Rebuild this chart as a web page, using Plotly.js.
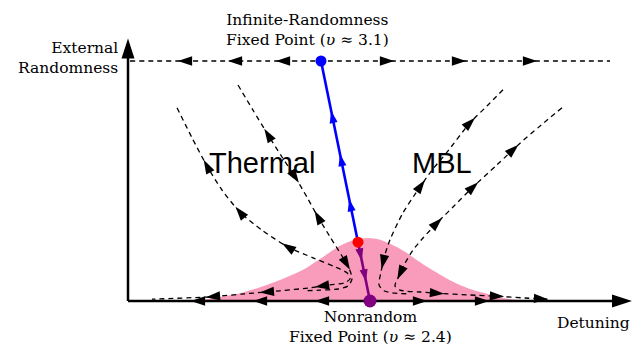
<!DOCTYPE html>
<html><head><meta charset="utf-8">
<script src="https://cdn.plot.ly/plotly-3.0.1.min.js"></script>
<style>html,body{margin:0;padding:0;background:#fff;}</style>
</head><body><div id="chart" style="width:644px;height:347px;"></div>
<script>
// ---- data (x: detuning, y: external randomness) ----
const fixedX = [-0.98, -0.24, 0];          // infinite-randomness FP, critical point, nonrandom FP
const fixedY = [4.0, 0.98, 0];
const fixedColors = ['#0000ff', '#ff0000', '#800080'];
const fixedSizes = [11, 11, 13];

const axisOrigin = [-4.84, 0];
const xAxisEnd = 5.24;
const yAxisEnd = 4.38;

const pinkX = [-3.6,-3.4,-3.0,-2.6,-2.2,-1.8,-1.34,-1.0,-0.6,-0.3,-0.04,0.2,0.6,1.14,1.66,2.0,2.34,2.66,3.0,3.2];
const pinkY = [0,0.012,0.065,0.13,0.23,0.35,0.52,0.70,0.92,1.02,1.05,1.02,0.87,0.57,0.32,0.2,0.12,0.05,0.012,0];

const topLineX = [-4.8, -0.98, 4.8];
const topLineY = [4.0, 4.0, 4.0];
const topArrX = [-3.7, -2.7, -1.74, 0.34, 1.78, 3.2];
const topArrY = [4, 4, 4, 4, 4, 4];
const topArrDir = [-1, -1, -1, 1, 1, 1];

const xAxisArrX = [-3.44, -2.2, -0.96, 1.0, 2.24];
const xAxisArrY = [0, 0, 0, 0, 0];
const xAxisArrDir = [-1, -1, -1, 1, 1];

const blueX = [-0.24, -0.98];
const blueY = [0.98, 4.0];
const blueArrX = [-0.75, -0.58, -0.39];
const blueArrY = [3.07, 2.35, 1.6];
const blueArrDir = [1, 1, 1];

const purpleX = [-0.24, 0];
const purpleY = [0.98, 0];
const purpleArrX = [-0.2, -0.12];
const purpleArrY = [0.77, 0.42];
const purpleArrDir = [1, 1];

// thermal side, outer curve
const loX = [-3.86,-3.56,-3.26,-2.96,-2.6,-2.16,-1.64,-1.14,-0.7,-0.46,-0.4,-0.52,-0.8,-1.2,-1.8,-2.5,-3.2,-4.36];
const loY = [3.22,2.72,2.25,1.85,1.48,1.18,0.9,0.72,0.57,0.47,0.37,0.3,0.27,0.22,0.17,0.12,0.07,0.03];
const loArrX = [-3.26, -2.6, -1.64, -0.96, -2.06, -3.14];
const loArrY = [2.25, 1.48, 0.9, 0.25, 0.13, 0.07];
const loArrDir = [-1, -1, -1, 1, 1, 1];

// thermal side, inner curve
const liX = [-2.64,-2.34,-2.04,-1.76,-1.5,-1.26,-1.04,-0.8,-0.56,-0.42,-0.36,-0.44,-0.64,-1.0,-1.3];
const liY = [3.6,3.18,2.77,2.4,2.07,1.73,1.4,1.07,0.75,0.55,0.37,0.25,0.2,0.18,0.17];
const liArrX = [-2.04, -1.5, -1.04, -0.46];
const liArrY = [2.77, 2.07, 1.4, 0.63];
const liArrDir = [-1, 1, -1, 1];

// MBL side, outer curve
const roX = [3.84,3.42,3.0,2.54,2.06,1.7,1.34,1.06,0.86,0.7,0.58,0.5,0.6,1.0,1.34,2.0,2.54,3.1,3.56];
const roY = [3.22,2.93,2.63,2.27,1.9,1.6,1.3,1.05,0.85,0.63,0.42,0.25,0.18,0.15,0.13,0.1,0.08,0.05,0.03];
const roArrX = [2.86, 2.06, 1.34, 0.6, 1.34, 2.54, 3.42];
const roArrY = [2.53, 1.9, 1.3, 0.47, 0.13, 0.08, 0.03];
const roArrDir = [-1, -1, -1, 1, 1, 1, 1];

// MBL side, inner curve
const riX = [2.66,2.34,2.0,1.54,1.24,1.0,0.66,0.4,0.28,0.22,0.18,0.28,0.5,0.8];
const riY = [3.52,3.25,2.97,2.48,2.18,1.9,1.47,1.02,0.72,0.48,0.27,0.17,0.13,0.12];
const riArrX = [2.0, 1.0, 0.26];
const riArrY = [2.97, 1.93, 0.65];
const riArrDir = [-1, -1, 1];

// ---- layout geometry ----
const W = 644, H = 347;
const xr = [-7.4, 5.48], yr = [-0.7667, 5.0167];
const sx = W / (xr[1] - xr[0]), sy = H / (yr[1] - yr[0]);

function arrowTrace(cx, cy, axs, ays, dirs, size, color) {
  const X = [], Y = [], A = [];
  const L = size * 0.95;
  for (let i = 0; i < axs.length; i++) {
    let best = 0, bd = Infinity, bt = 0;
    const px = axs[i] * sx, py = ays[i] * sy;
    for (let j = 0; j < cx.length - 1; j++) {
      const x1 = cx[j] * sx, y1 = cy[j] * sy, x2 = cx[j + 1] * sx, y2 = cy[j + 1] * sy;
      const dx = x2 - x1, dy = y2 - y1, l2 = dx * dx + dy * dy;
      let t = l2 > 0 ? ((px - x1) * dx + (py - y1) * dy) / l2 : 0;
      t = Math.max(0, Math.min(1, t));
      const qx = x1 + t * dx, qy = y1 + t * dy;
      const d = (px - qx) ** 2 + (py - qy) ** 2;
      if (d < bd) { bd = d; best = j; bt = t; }
    }
    const j = best;
    let dx = (cx[j + 1] - cx[j]) * sx * dirs[i], dy = (cy[j + 1] - cy[j]) * sy * dirs[i];
    const n = Math.hypot(dx, dy); dx /= n; dy /= n;
    const qx = cx[j] + bt * (cx[j + 1] - cx[j]), qy = cy[j] + bt * (cy[j + 1] - cy[j]);
    X.push(qx + dx * L / 2 / sx); Y.push(qy + dy * L / 2 / sy);
    A.push(Math.atan2(dx, dy) * 180 / Math.PI);
  }
  return {type: 'scatter', mode: 'markers', x: X, y: Y, hoverinfo: 'skip',
    marker: {symbol: 'arrow', size: size, color: color, opacity: 1, angle: A, line: {width: 0}}};
}

function dashed(x, y) {
  return {type: 'scatter', mode: 'lines', x: x, y: y, hoverinfo: 'skip',
    line: {color: '#000', width: 1.3, dash: '5px,4px', shape: 'spline', smoothing: 0.7}};
}

const traces = [];
traces.push({type: 'scatter', mode: 'lines', x: pinkX, y: pinkY, fill: 'tozeroy',
  fillcolor: 'rgb(249,155,186)', line: {width: 0, shape: 'spline', smoothing: 0.8}, hoverinfo: 'skip'});
traces.push(dashed(topLineX, topLineY));
traces.push(dashed(loX, loY));
traces.push(dashed(liX, liY));
traces.push(dashed(roX, roY));
traces.push(dashed(riX, riY));
// axes
traces.push({type: 'scatter', mode: 'lines', hoverinfo: 'skip',
  x: [axisOrigin[0], xAxisEnd - 0.2], y: [axisOrigin[1], axisOrigin[1]], line: {color: '#000', width: 2.5}});
traces.push({type: 'scatter', mode: 'lines', hoverinfo: 'skip',
  x: [axisOrigin[0], axisOrigin[0]], y: [axisOrigin[1], yAxisEnd - 0.2], line: {color: '#000', width: 2.5}});
traces.push(arrowTrace([axisOrigin[0], xAxisEnd], [0, 0], [xAxisEnd - 0.2], [0], [1], 21, '#000'));
traces.push(arrowTrace([axisOrigin[0], axisOrigin[0]], [0, yAxisEnd], [axisOrigin[0]], [yAxisEnd - 0.17], [1], 21, '#000'));
// critical flow
traces.push({type: 'scatter', mode: 'lines', x: blueX, y: blueY, hoverinfo: 'skip', line: {color: '#0000ff', width: 2.6}});
traces.push({type: 'scatter', mode: 'lines', x: purpleX, y: purpleY, hoverinfo: 'skip', line: {color: '#800080', width: 2.6}});
traces.push(arrowTrace(blueX, blueY, blueArrX, blueArrY, blueArrDir, 13, '#0000ff'));
traces.push(arrowTrace(purpleX, purpleY, purpleArrX, purpleArrY, purpleArrDir, 13, '#800080'));
// flow arrows
traces.push(arrowTrace(topLineX, topLineY, topArrX, topArrY, topArrDir, 15, '#000'));
traces.push(arrowTrace([axisOrigin[0], xAxisEnd], [0, 0], xAxisArrX, xAxisArrY, xAxisArrDir, 15, '#000'));
traces.push(arrowTrace(loX, loY, loArrX, loArrY, loArrDir, 15, '#000'));
traces.push(arrowTrace(liX, liY, liArrX, liArrY, liArrDir, 15, '#000'));
traces.push(arrowTrace(roX, roY, roArrX, roArrY, roArrDir, 15, '#000'));
traces.push(arrowTrace(riX, riY, riArrX, riArrY, riArrDir, 15, '#000'));
// fixed points
traces.push({type: 'scatter', mode: 'markers', x: fixedX, y: fixedY, hoverinfo: 'skip',
  marker: {color: fixedColors, size: fixedSizes, opacity: 1, line: {width: 0}}});

const serif = {family: 'DejaVu Serif', size: 15.5, color: '#000'};
const sans = {family: 'Liberation Sans, Arial', size: 29, color: '#000'};
const annotations = [
  {x: -5.0, y: 4.05, text: 'External<br>Randomness', xanchor: 'right', align: 'right', font: serif},
  {x: -1.26, y: 4.52, text: 'Infinite-Randomness<br>Fixed Point (<i>υ</i> ≈ 3.1)', font: serif},
  {x: 0, y: -0.76, text: 'Nonrandom<br>Fixed Point (<i>υ</i> ≈ 2.4)', font: serif, yanchor: 'bottom', borderpad: 0},
  {x: 5.24, y: -0.36, text: 'Detuning', xanchor: 'right', font: serif},
  {x: -2.16, y: 2.3, text: 'Thermal', font: sans},
  {x: 1.44, y: 2.3, text: 'MBL', font: sans}
].map(a => Object.assign({xref: 'x', yref: 'y', showarrow: false, yanchor: 'middle'}, a));

const layout = {
  width: W, height: H, margin: {l: 0, r: 0, t: 0, b: 0, pad: 0},
  paper_bgcolor: '#fff', plot_bgcolor: '#fff', showlegend: false,
  xaxis: {range: xr, visible: false, fixedrange: true},
  yaxis: {range: yr, visible: false, fixedrange: true},
  annotations: annotations
};
Plotly.newPlot('chart', traces, layout, {staticPlot: true, displayModeBar: false});
</script></body></html>
